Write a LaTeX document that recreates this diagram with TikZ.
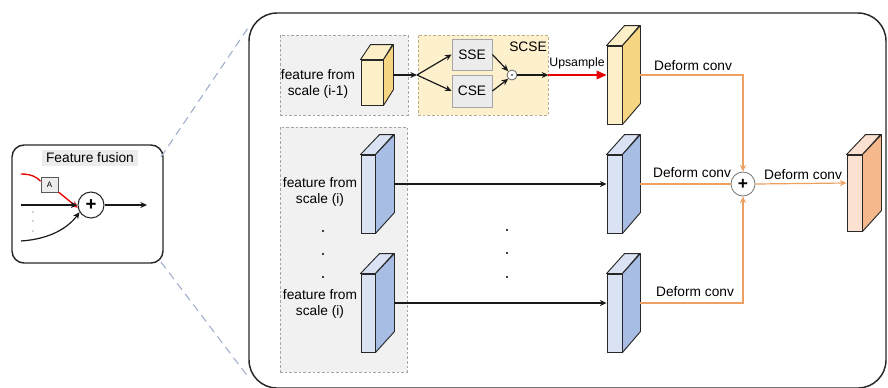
\documentclass[tikz,border=0pt]{standalone}
\usepackage{fontspec}
\setmainfont{Liberation Sans}
\usetikzlibrary{arrows.meta,calc}

\definecolor{frameline}{RGB}{40,40,40}
\definecolor{zoomline}{RGB}{160,174,204}
\definecolor{grayfill}{RGB}{241,241,241}
\definecolor{grayedge}{RGB}{165,165,165}
\definecolor{scsefill}{RGB}{253,240,205}
\definecolor{scseedge}{RGB}{185,172,140}
\definecolor{boxfill}{RGB}{236,236,236}
\definecolor{yfront}{RGB}{253,240,200}
\definecolor{yside}{RGB}{246,214,130}
\definecolor{bfront}{RGB}{218,227,243}
\definecolor{bside}{RGB}{168,189,228}
\definecolor{ofront}{RGB}{251,226,208}
\definecolor{oside}{RGB}{244,184,140}
\definecolor{orangeline}{RGB}{236,160,98}
\definecolor{upred}{RGB}{230,0,0}

% front face + top + side of a 3D feature block
% #1 name, #2 cx, #3 cy, #4 width, #5 height, #6 depth dx, #7 depth dy, #8 front, #9 side
\newcommand\prism[9]{%
  \node[prismface, fill=#8, minimum width=#4*0.75pt, minimum height=#5*0.75pt] (#1) at (#2,#3) {};
  \draw[prismedge, fill=#8] (#1.north west) -- ++(#6,-#7) -- ++(#4,0) -- (#1.north east) -- cycle;
  \draw[prismedge, fill=#9] (#1.north east) -- ++(#6,-#7) -- ++(0,#5) -- (#1.south east) -- cycle;
  \coordinate (#1-o) at ($(#1.east)+(#6,-#7/2)$);
  \coordinate (#1-i) at ($(#1.west)+(0,-#7/2)$);
}

\begin{document}
\begin{tikzpicture}[x=0.75pt,y=-0.75pt,
  font=\fontsize{10.3}{11.5}\selectfont,
  prismface/.style={draw=frameline, line width=0.7pt, inner sep=0pt, rectangle},
  prismedge/.style={draw=frameline, line width=0.7pt, line join=round},
  dashbox/.style={draw=grayedge, fill=grayfill, line width=0.6pt, dash pattern=on 2pt off 1.5pt},
  scsebox/.style={draw=scseedge, fill=scsefill, line width=0.6pt, dash pattern=on 2pt off 1.5pt},
  greybox/.style={draw=grayedge, fill=boxfill, line width=0.6pt, inner sep=0pt},
  bline/.style={draw=black!90, line width=0.9pt},
  barrow/.style={bline, -{Stealth[length=5pt,width=4.5pt]}},
  oline/.style={draw=orangeline, line width=0.9pt},
  oarrow/.style={oline, -{Stealth[length=5pt,width=4.5pt]}},
  rarrow/.style={draw=upred, line width=1pt, -{Triangle[length=7.5pt,width=6.5pt]}},
  zoomlink/.style={draw=zoomline, line width=0.8pt, dash pattern=on 6pt off 4pt},
  label/.style={inner sep=0pt, align=center},
  smalldot/.style={fill=black, radius=1.1},
]
\useasboundingbox (0,0) rectangle (888,387);

% ---------------- small "Feature fusion" panel ----------------
\draw[draw=frameline, line width=1.1pt, rounded corners=9pt] (12,145) rectangle (163,263);
\node[fill=boxfill, minimum width=96*0.75pt, minimum height=16*0.75pt, inner sep=0pt] (fftitle) at (90,158) {Feature fusion};
\node[draw=frameline, circle, line width=0.8pt, fill=white, minimum size=26*0.75pt, inner sep=0pt] (fsum) at (91,205) {\fontsize{14}{14}\selectfont\textbf{+}};
\node[draw=black!65, fill=boxfill, line width=0.7pt, minimum width=17*0.75pt, minimum height=15*0.75pt, inner sep=0pt] (attn) at (49.5,184.5) {\fontsize{6}{6}\selectfont A};
\coordinate (redin) at (21,174);
\coordinate (midin) at (21,205);
\coordinate (lowin) at (21,241);
\coordinate (fout) at (147,205);
\draw[draw=upred, line width=1pt] (redin) .. controls (31,174) and (37,177) .. (attn.160);
\draw[draw=upred, line width=1pt, -{Stealth[length=5pt,width=4.5pt]}] (attn.-40) -- (fsum.192);
\draw[barrow] (midin) -- (fsum.west);
\draw[barrow] (lowin) .. controls (50,239) and (68,228) .. (fsum.212);
\draw[barrow] (fsum.east) -- (fout);
\fill[black!70] (33,212) circle (0.6) (33,221) circle (0.6) (33,231) circle (0.6);

% zoom links to the detailed panel
\coordinate (zt0) at (161,157);
\coordinate (zt1) at (250,25);
\coordinate (zb0) at (161,262);
\coordinate (zb1) at (249,378);
\draw[zoomlink] (zt0) -- (zt1);
\draw[zoomlink] (zb0) -- (zb1);

% ---------------- detailed panel ----------------
\draw[draw=frameline, line width=1.1pt, rounded corners=21pt] (249,13) rectangle (886,388);

% input groups
\node[dashbox, minimum width=128*0.75pt, minimum height=80*0.75pt, inner sep=0pt] (grpa) at (344,75) {};
\node[scsebox, minimum width=130*0.75pt, minimum height=80*0.75pt, inner sep=0pt] (scse) at (483,75) {};
\node[dashbox, minimum width=127*0.75pt, minimum height=245*0.75pt, inner sep=0pt] (grpb) at (343.5,249.5) {};

\node[label] (scsetxt) at (528,47) {SCSE};
\node[label] (txta) at (318,84) {feature from\\scale (i-1)};
\node[label] (txtb) at (320,192) {feature from\\scale (i)};
\node[label] (txtc) at (320,304) {feature from\\scale (i)};
\fill (323,231) circle (1.1) (323,254) circle (1.1) (323,277) circle (1.1);
\fill (507,230) circle (1.1) (507,253) circle (1.1) (507,277) circle (1.1);

% feature blocks
\prism{ya}{372}{82.5}{22}{45}{10}{15}{yfront}{yside}
\prism{yb}{614.5}{85}{15}{78}{18}{20}{yfront}{yside}
\prism{ba}{368}{194}{14}{78}{19}{20}{bfront}{bside}
\prism{bb}{368}{313}{14}{78}{19}{20}{bfront}{bside}
\prism{bc}{614.5}{194}{15}{78}{18}{20}{bfront}{bside}
\prism{bd}{614.5}{313}{15}{78}{18}{20}{bfront}{bside}
\prism{oc}{854.5}{193}{15}{76}{19}{20}{ofront}{oside}

% SCSE block
\node[greybox, minimum width=40*0.75pt, minimum height=31*0.75pt] (sse) at (472,54.5) {SSE};
\node[greybox, minimum width=40*0.75pt, minimum height=32*0.75pt] (cse) at (472,91) {CSE};
\node[draw=black!60, fill=white, circle, line width=0.6pt, minimum size=10*0.75pt, inner sep=0pt] (odot) at (512,75) {};
\fill (odot.center) circle (0.9);
\coordinate (split) at (417,75);
\draw[barrow] (ya-o) -- (split);
\draw[barrow] (split) -- (sse.west);
\draw[barrow] (split) -- (cse.west);
\draw[barrow] (sse.east) -- (odot.north west);
\draw[barrow] (cse.east) -- (odot.south west);
\draw[barrow] (odot.east) -- (scse.east);
\draw[rarrow] (scse.east) -- (yb-i);
\node[label, font=\fontsize{9.2}{10}\selectfont] (uptxt) at (577,63) {Upsample};

% same-scale paths
\draw[barrow] (ba-o) -- (bc-i);
\draw[barrow] (bb-o) -- (bd-i);

% fusion by deformable convolutions
\node[draw=black!55, fill=white, circle, line width=0.6pt, minimum size=24*0.75pt, inner sep=0pt] (sum) at (743,184) {\fontsize{13}{13}\selectfont\textbf{+}};
\draw[oarrow] (yb-o) -| (sum.north);
\draw[oline] (bc-o) -- (sum.west);
\draw[oarrow] (bd-o) -| (sum.south);
\draw[oarrow] (sum.east) -- (oc-i);
\node[label] (dc1) at (693,66) {Deform conv};
\node[label] (dc2) at (692,173) {Deform conv};
\node[label] (dc3) at (695,292) {Deform conv};
\node[label] (dc4) at (803,175) {Deform conv};
\end{tikzpicture}
\end{document}
